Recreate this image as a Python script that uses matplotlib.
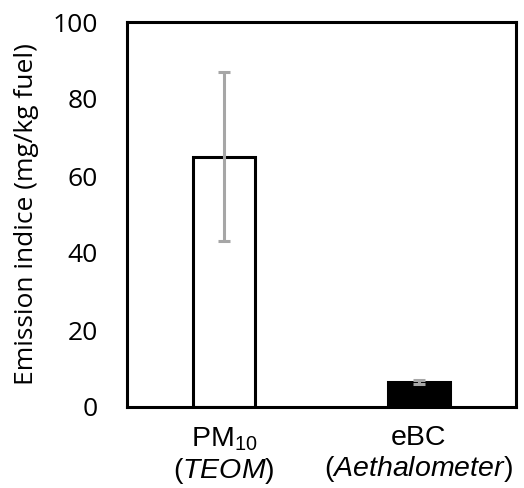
import matplotlib
matplotlib.use("Agg")
import matplotlib.pyplot as plt

categories = ["PM$_{10}$\n($\\it{TEOM}$)", "eBC\n($\\it{Aethalometer)}$"]
values = [65.0, 6.5]
errors = [22.0, 0.6]
bar_colors = ["white", "black"]
yticks = [0, 20, 40, 60, 80, 100]

plt.rcParams["mathtext.fontset"] = "custom"
plt.rcParams["mathtext.rm"] = "Liberation Sans"
plt.rcParams["mathtext.it"] = "Liberation Sans:italic"

fig = plt.figure(figsize=(5.24, 4.88), dpi=100)
ax = fig.add_axes([127/524, 1-407/488, (516-127)/524, (407-22)/488])

x = list(range(len(categories)))
ax.bar(x, values, width=0.32, color=bar_colors, edgecolor="black", linewidth=2.2, zorder=2)
ax.errorbar(x, values, yerr=errors, fmt="none", ecolor="#A6A6A6", elinewidth=2.2,
            capsize=4.5, capthick=2.2, zorder=3)

ax.set_xlim(-0.5, 1.5)
ax.set_ylim(0, 100)
ax.set_yticks(yticks)
ax.set_yticklabels([str(t) for t in yticks], fontname="Open Sans", fontsize=19)
ax.set_xticks(x)
ax.set_xticklabels(categories, fontname="Liberation Sans", fontsize=20.5, linespacing=1.15)
ax.tick_params(axis="both", length=0)
ax.tick_params(axis="y", pad=21)
ax.tick_params(axis="x", pad=13)
for s in ax.spines.values():
    s.set_linewidth(2.2)
    s.set_color("black")
ax.set_ylabel("Emission indice (mg/kg fuel)", fontname="Open Sans", fontsize=19, labelpad=10)

fig.savefig("out.png", dpi=100)
